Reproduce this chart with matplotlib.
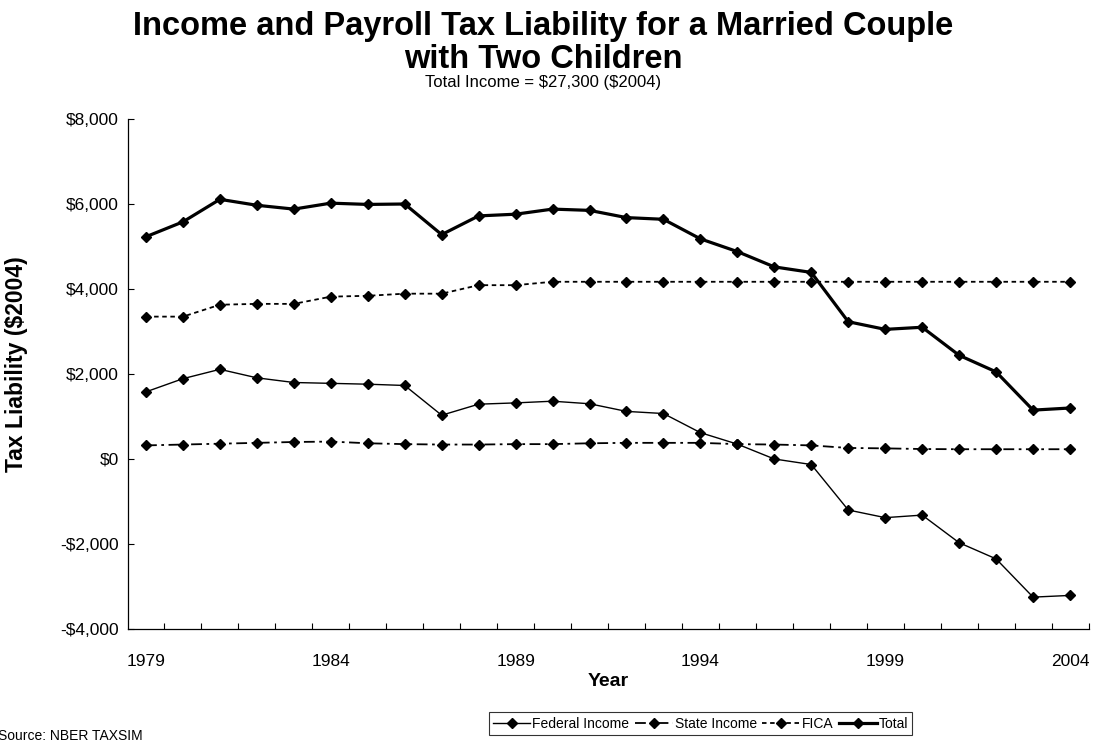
import matplotlib
matplotlib.use("Agg")
import matplotlib.pyplot as plt
from matplotlib.ticker import FuncFormatter, MultipleLocator, FixedLocator

plt.rcParams['font.family'] = ['Liberation Sans', 'DejaVu Sans']
plt.rcParams['text.parse_math'] = False

years = list(range(1979, 2005))

federal_income = [1580, 1890, 2110, 1910, 1800, 1780, 1760, 1730, 1030, 1290,
                  1320, 1360, 1300, 1120, 1070, 620, 350, 0, -130, -1200,
                  -1380, -1320, -1970, -2350, -3250, -3210]
state_income = [320, 340, 360, 380, 400, 410, 370, 350, 340, 340,
                350, 350, 370, 380, 380, 380, 350, 340, 320, 260,
                250, 235, 230, 230, 230, 230]
fica = [3350, 3350, 3630, 3650, 3650, 3820, 3840, 3890, 3890, 4090,
        4090, 4170, 4170, 4170, 4170, 4170, 4170, 4170, 4170, 4170,
        4170, 4170, 4170, 4170, 4170, 4170]
total = [5230, 5580, 6110, 5970, 5880, 6020, 5990, 6000, 5280, 5720,
         5760, 5880, 5850, 5680, 5640, 5180, 4880, 4520, 4390, 3230,
         3050, 3100, 2440, 2050, 1150, 1200]

W, H = 1097, 743
fig = plt.figure(figsize=(W / 100, H / 100), dpi=100)
left, right, top, bottom = 127.5, 1088.5, 119, 629
ax = fig.add_axes([left / W, 1 - bottom / H, (right - left) / W, (bottom - top) / H])

mk = dict(marker='D', markersize=5.2, markerfacecolor='black', markeredgecolor='black')
ax.plot(years, federal_income, color='black', lw=1.0, label='Federal Income', **mk)
ax.plot(years, state_income, color='black', lw=1.3, dashes=(6, 2.5, 1.5, 2.5),
        label='State Income', **mk)
ax.plot(years, fica, color='black', lw=1.3, dashes=(2.5, 2), label='FICA', **mk)
ax.plot(years, total, color='black', lw=2.3, label='Total', **mk)

ax.set_xlim(1978.5, 2004.5)
ax.set_ylim(-4000, 8000)
ax.yaxis.set_major_locator(MultipleLocator(2000))


def money(v, pos):
    v = int(round(v))
    if v < 0:
        return "-${:,}".format(-v)
    return "${:,}".format(v)


ax.yaxis.set_major_formatter(FuncFormatter(money))
ax.xaxis.set_major_locator(FixedLocator([y for y in years if (y - 1979) % 5 == 0]))
ax.xaxis.set_minor_locator(FixedLocator([y + 0.5 for y in years]))
ax.tick_params(axis='x', which='major', length=0, labelsize=12.5, pad=18)
ax.tick_params(axis='x', which='minor', direction='in', length=4.5, width=0.8)
ax.tick_params(axis='y', direction='in', length=4.5, width=0.8, labelsize=12.5, pad=6)

for s in ('top', 'right'):
    ax.spines[s].set_visible(False)
for s in ('left', 'bottom'):
    ax.spines[s].set_linewidth(0.9)

ax.set_xlabel('Year', fontsize=14, fontweight='bold', labelpad=3)
ax.set_ylabel('Tax Liability ($2004)', fontsize=16.5, fontweight='bold')
ax.yaxis.set_label_coords(-99 / (right - left), 0.52)

fig.text(0.495, 1 - 43 / H, 'Income and Payroll Tax Liability for a Married Couple\nwith Two Children',
         ha='center', va='center', fontsize=23.5, fontweight='bold', linespacing=1.05)
fig.text(0.495, 1 - 83 / H, 'Total Income = $27,300 ($2004)', ha='center', va='center', fontsize=12)

leg = fig.legend(loc='center', bbox_to_anchor=(700.5 / W, 1 - 723.5 / H), ncol=4, frameon=True,
                 fancybox=False, edgecolor='black', fontsize=10, handlelength=2.7,
                 handletextpad=0.15, columnspacing=0.4, borderpad=0.3, borderaxespad=0)
leg.get_frame().set_linewidth(0.8)

fig.text(-2 / W, 1 - 743 / H, 'Source: NBER TAXSIM', ha='left', va='bottom', fontsize=10)

fig.savefig('out.png', dpi=100)
